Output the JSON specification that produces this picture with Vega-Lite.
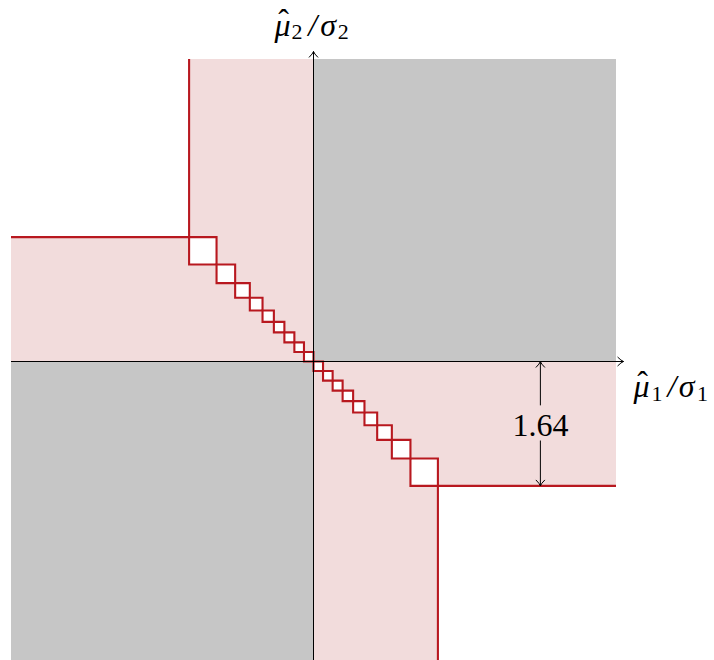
{
  "$schema": "https://vega.github.io/schema/vega-lite/v6.json",
  "autosize": {"type": "none"},
  "width": 605,
  "height": 605,
  "padding": {"left": 11, "top": 59, "right": 98, "bottom": 0},
  "background": "white",
  "config": {"view": {"stroke": null}},
  "datasets": {
    "regions": [
      {"kind": "gray", "x": 0, "x2": 4, "y": 0, "y2": 4},
      {"kind": "gray", "x": -4, "x2": 0, "y": -4, "y2": 0},
      {"kind": "pink", "x": -1.645, "x2": 0, "y": 0, "y2": 4},
      {"kind": "pink", "x": -4, "x2": 0, "y": 0, "y2": 1.645},
      {"kind": "pink", "x": 0, "x2": 1.645, "y": -4, "y2": 0},
      {"kind": "pink", "x": 0, "x2": 4, "y": -1.645, "y2": 0}
    ],
    "squares": [
      {"x": -1.645, "x2": -1.282, "y": 1.282, "y2": 1.645},
      {"x": -1.282, "x2": -1.036, "y": 1.036, "y2": 1.282},
      {"x": -1.036, "x2": -0.842, "y": 0.842, "y2": 1.036},
      {"x": -0.842, "x2": -0.674, "y": 0.674, "y2": 0.842},
      {"x": -0.674, "x2": -0.524, "y": 0.524, "y2": 0.674},
      {"x": -0.524, "x2": -0.385, "y": 0.385, "y2": 0.524},
      {"x": -0.385, "x2": -0.253, "y": 0.253, "y2": 0.385},
      {"x": -0.253, "x2": -0.126, "y": 0.126, "y2": 0.253},
      {"x": -0.126, "x2": 0, "y": 0, "y2": 0.126},
      {"x": 1.282, "x2": 1.645, "y": -1.645, "y2": -1.282},
      {"x": 1.036, "x2": 1.282, "y": -1.282, "y2": -1.036},
      {"x": 0.842, "x2": 1.036, "y": -1.036, "y2": -0.842},
      {"x": 0.674, "x2": 0.842, "y": -0.842, "y2": -0.674},
      {"x": 0.524, "x2": 0.674, "y": -0.674, "y2": -0.524},
      {"x": 0.385, "x2": 0.524, "y": -0.524, "y2": -0.385},
      {"x": 0.253, "x2": 0.385, "y": -0.385, "y2": -0.253},
      {"x": 0.126, "x2": 0.253, "y": -0.253, "y2": -0.126},
      {"x": 0, "x2": 0.126, "y": -0.126, "y2": 0}
    ],
    "segments": [
      {"kind": "red", "x": -1.645, "y": 1.645, "x2": -1.645, "y2": 4},
      {"kind": "red", "x": -4, "y": 1.645, "x2": -1.645, "y2": 1.645},
      {"kind": "red", "x": 1.645, "y": -4, "x2": 1.645, "y2": -1.645},
      {"kind": "red", "x": 1.645, "y": -1.645, "x2": 4, "y2": -1.645},
      {"kind": "axis", "x": -4, "y": 0, "x2": 4.1, "y2": 0},
      {"kind": "axis", "x": 0, "y": -4, "x2": 0, "y2": 4.1},
      {"kind": "axis", "x": 3, "y": 0, "x2": 3, "y2": -0.58},
      {"kind": "axis", "x": 3, "y": -1.045, "x2": 3, "y2": -1.645}
    ],
    "arrows": [
      {"dir": "right", "x": 4.1, "y": 0},
      {"dir": "up", "x": 0, "y": 4.1},
      {"dir": "up", "x": 3, "y": 0},
      {"dir": "down", "x": 3, "y": -1.645}
    ],
    "bigItalic": [
      {"x": -0.516, "y": 4.3, "t": "μ"},
      {"x": -0.07, "y": 4.3, "t": "/"},
      {"x": 0.09, "y": 4.3, "t": "σ"},
      {"x": 4.233, "y": -0.476, "t": "μ"},
      {"x": 4.68, "y": -0.476, "t": "/"},
      {"x": 4.83, "y": -0.476, "t": "σ"}
    ],
    "hats": [
      {"x": -0.397, "y": 4.365, "t": "ˆ"},
      {"x": 4.352, "y": -0.41, "t": "ˆ"}
    ],
    "subs": [
      {"x": -0.291, "y": 4.26, "t": "2"},
      {"x": 0.32, "y": 4.26, "t": "2"},
      {"x": 4.471, "y": -0.516, "t": "1"},
      {"x": 5.07, "y": -0.516, "t": "1"}
    ],
    "value": [
      {"x": 3, "y": -0.985, "t": "1.64"}
    ]
  },
  "layer": [
    {
      "data": {"name": "regions"},
      "mark": {"type": "rect", "strokeWidth": 0},
      "encoding": {
        "x": {"field": "x", "type": "quantitative", "scale": {"domain": [-4, 4], "nice": false, "zero": false}, "axis": null},
        "x2": {"field": "x2"},
        "y": {"field": "y", "type": "quantitative", "scale": {"domain": [-4, 4], "nice": false, "zero": false}, "axis": null},
        "y2": {"field": "y2"},
        "color": {"field": "kind", "type": "nominal", "scale": {"domain": ["gray", "pink"], "range": ["#c6c6c6", "#f2dcdc"]}, "legend": null}
      }
    },
    {
      "data": {"name": "squares"},
      "mark": {"type": "rect", "fill": "white", "stroke": "#b8181f", "strokeWidth": 2.1, "strokeJoin": "miter"},
      "encoding": {
        "x": {"field": "x", "type": "quantitative"},
        "x2": {"field": "x2"},
        "y": {"field": "y", "type": "quantitative"},
        "y2": {"field": "y2"}
      }
    },
    {
      "data": {"name": "segments"},
      "transform": [{"filter": "datum.kind === 'red'"}],
      "mark": {"type": "rule", "color": "#b8181f", "strokeWidth": 2.1, "strokeCap": "butt"},
      "encoding": {
        "x": {"field": "x", "type": "quantitative"},
        "x2": {"field": "x2"},
        "y": {"field": "y", "type": "quantitative"},
        "y2": {"field": "y2"}
      }
    },
    {
      "data": {"name": "segments"},
      "transform": [{"filter": "datum.kind === 'axis'"}],
      "mark": {"type": "rule", "color": "black", "strokeWidth": 1},
      "encoding": {
        "x": {"field": "x", "type": "quantitative"},
        "x2": {"field": "x2"},
        "y": {"field": "y", "type": "quantitative"},
        "y2": {"field": "y2"}
      }
    },
    {
      "data": {"name": "arrows"},
      "transform": [{"filter": "datum.dir === 'right'"}],
      "mark": {"type": "point", "shape": "M-1.33,-1 Q-0.5,-0.15 0,0 Q-0.5,0.15 -1.33,1", "size": 81, "filled": false, "stroke": "black", "strokeWidth": 1, "opacity": 1, "angle": 0},
      "encoding": {
        "x": {"field": "x", "type": "quantitative"},
        "y": {"field": "y", "type": "quantitative"}
      }
    },
    {
      "data": {"name": "arrows"},
      "transform": [{"filter": "datum.dir === 'up'"}],
      "mark": {"type": "point", "shape": "M-1.33,-1 Q-0.5,-0.15 0,0 Q-0.5,0.15 -1.33,1", "size": 81, "filled": false, "stroke": "black", "strokeWidth": 1, "opacity": 1, "angle": 270},
      "encoding": {
        "x": {"field": "x", "type": "quantitative"},
        "y": {"field": "y", "type": "quantitative"}
      }
    },
    {
      "data": {"name": "arrows"},
      "transform": [{"filter": "datum.dir === 'down'"}],
      "mark": {"type": "point", "shape": "M-1.33,-1 Q-0.5,-0.15 0,0 Q-0.5,0.15 -1.33,1", "size": 81, "filled": false, "stroke": "black", "strokeWidth": 1, "opacity": 1, "angle": 90},
      "encoding": {
        "x": {"field": "x", "type": "quantitative"},
        "y": {"field": "y", "type": "quantitative"}
      }
    },
    {
      "data": {"name": "bigItalic"},
      "mark": {"type": "text", "font": "Liberation Serif", "fontStyle": "italic", "fontSize": 32, "align": "left", "baseline": "alphabetic", "color": "black"},
      "encoding": {
        "x": {"field": "x", "type": "quantitative"},
        "y": {"field": "y", "type": "quantitative"},
        "text": {"field": "t"}
      }
    },
    {
      "data": {"name": "hats"},
      "mark": {"type": "text", "font": "Liberation Serif", "fontSize": 32, "align": "center", "baseline": "alphabetic", "color": "black"},
      "encoding": {
        "x": {"field": "x", "type": "quantitative"},
        "y": {"field": "y", "type": "quantitative"},
        "text": {"field": "t"}
      }
    },
    {
      "data": {"name": "subs"},
      "mark": {"type": "text", "font": "Liberation Serif", "fontSize": 22, "align": "left", "baseline": "alphabetic", "color": "black"},
      "encoding": {
        "x": {"field": "x", "type": "quantitative"},
        "y": {"field": "y", "type": "quantitative"},
        "text": {"field": "t"}
      }
    },
    {
      "data": {"name": "value"},
      "mark": {"type": "text", "font": "Liberation Serif", "fontSize": 32, "align": "center", "baseline": "alphabetic", "color": "black"},
      "encoding": {
        "x": {"field": "x", "type": "quantitative"},
        "y": {"field": "y", "type": "quantitative"},
        "text": {"field": "t"}
      }
    }
  ]
}
